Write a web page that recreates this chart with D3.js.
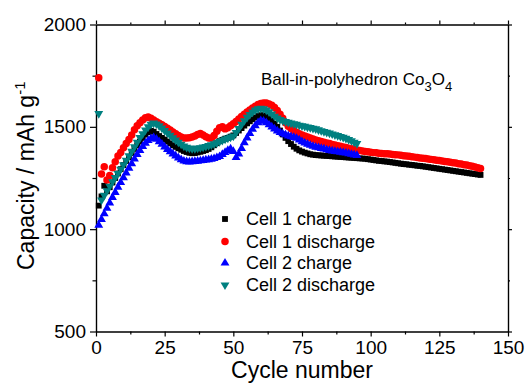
<!DOCTYPE html>
<html>
<head>
<meta charset="utf-8">
<script src="https://cdn.jsdelivr.net/npm/d3@7"></script>
<style>
body { margin: 0; background: #fff; }
svg { display: block; }
text { font-family: "Liberation Sans", Arial, sans-serif; fill: #000; }
</style>
</head>
<body>
<svg id="svg"></svg>
<script>
// capacity per cycle (mAh/g), cycle number = index + 1
var cell1Charge = [
	1115, 1160, 1212, 1185, 1205, 1228, 1250, 1272, 1293, 1313,
	1333, 1352, 1372, 1392, 1410, 1428, 1446, 1462, 1474, 1480,
	1476, 1465, 1455, 1446, 1438, 1428, 1419, 1410, 1402, 1395,
	1388, 1382, 1377, 1373, 1371, 1372, 1375, 1378, 1382, 1386,
	1392, 1400, 1410, 1420, 1430, 1436, 1442, 1446, 1452, 1458,
	1470, 1482, 1494, 1506, 1517, 1527, 1537, 1546, 1553, 1557,
	1556, 1550, 1541, 1530, 1516, 1500, 1482, 1463, 1446, 1430,
	1416, 1403, 1393, 1385, 1379, 1374, 1370, 1366, 1364, 1362,
	1361, 1360, 1359, 1358, 1357, 1356, 1355, 1354, 1353, 1352,
	1351, 1350, 1349, 1348, 1347, 1346, 1345, 1344, 1342, 1340,
	1338, 1336, 1334, 1333, 1331, 1330, 1328, 1326, 1324, 1322,
	1320, 1318, 1317, 1315, 1314, 1312, 1310, 1309, 1307, 1305,
	1303, 1301, 1299, 1297, 1295, 1293, 1291, 1289, 1287, 1285,
	1283, 1281, 1279, 1277, 1275, 1273, 1271, 1269, 1267, 1265
];
var cell1Discharge = [
	1740, 1270, 1305, 1240, 1262, 1300, 1330, 1358, 1375, 1398,
	1418, 1438, 1460, 1486, 1505, 1520, 1533, 1544, 1548, 1542,
	1533, 1525, 1518, 1510, 1502, 1493, 1484, 1475, 1466, 1458,
	1450, 1446, 1445, 1447, 1450, 1455, 1462, 1468, 1460, 1452,
	1446, 1444, 1458, 1478, 1495, 1500, 1490, 1496, 1505, 1515,
	1526, 1538, 1550, 1562, 1572, 1582, 1592, 1601, 1609, 1614,
	1616, 1616, 1612, 1605, 1594, 1580, 1562, 1542, 1520, 1503,
	1492, 1482, 1474, 1466, 1460, 1455, 1450, 1445, 1440, 1436,
	1432, 1428, 1425, 1421, 1418, 1414, 1411, 1408, 1405, 1402,
	1399, 1396, 1393, 1390, 1387, 1385, 1382, 1380, 1378, 1376,
	1374, 1373, 1371, 1370, 1369, 1368, 1367, 1365, 1364, 1363,
	1361, 1359, 1358, 1356, 1354, 1352, 1350, 1348, 1347, 1345,
	1343, 1341, 1339, 1337, 1335, 1333, 1331, 1329, 1327, 1325,
	1323, 1320, 1318, 1315, 1313, 1310, 1307, 1304, 1300, 1296
];
var cell2Charge = [
	1020, 1048, 1075, 1102, 1128, 1155, 1180, 1205, 1228, 1252,
	1275, 1298, 1320, 1343, 1365, 1385, 1404, 1420, 1433, 1443,
	1447, 1440, 1428, 1415, 1402, 1390, 1379, 1368, 1358, 1348,
	1340, 1333, 1330, 1329, 1330, 1331, 1332, 1334, 1336, 1338,
	1340, 1342, 1345, 1350, 1355, 1365, 1375, 1385, 1392, 1380,
	1350, 1368, 1395, 1422, 1446, 1468, 1488, 1506, 1520, 1530,
	1528, 1520, 1510, 1500, 1490, 1480, 1472, 1466, 1461, 1456,
	1452, 1448, 1444, 1436, 1428, 1421, 1415, 1410, 1405, 1401,
	1398, 1395, 1392, 1388, 1385, 1382, 1380, 1378, 1376, 1374,
	1372, 1369, 1366, 1363, 1360
];
var cell2Discharge = [
	1565, 1142, 1165, 1188, 1210, 1232, 1252, 1272, 1293, 1315,
	1337, 1358, 1380, 1402, 1425, 1447, 1466, 1484, 1500, 1512,
	1518, 1514, 1505, 1494, 1482, 1470, 1458, 1446, 1435, 1425,
	1415, 1406, 1400, 1396, 1394, 1394, 1396, 1398, 1401, 1404,
	1408, 1412, 1417, 1422, 1428, 1434, 1440, 1445, 1450, 1455,
	1472, 1492, 1512, 1530, 1546, 1560, 1572, 1582, 1588, 1590,
	1588, 1582, 1573, 1563, 1552, 1543, 1535, 1530, 1526, 1522,
	1518, 1515, 1512, 1508, 1505, 1502, 1499, 1496, 1493, 1490,
	1485, 1481, 1477, 1473, 1469, 1465, 1461, 1457, 1453, 1449,
	1444, 1438, 1432, 1425, 1418
];

var seriesNames = ["Cell 1 charge", "Cell 1 discharge", "Cell 2 charge", "Cell 2 discharge"];
var xTicks = [0, 25, 50, 75, 100, 125, 150];
var xMinorTicks = [12.5, 37.5, 62.5, 87.5, 112.5, 137.5];
var yTicks = [500, 1000, 1500, 2000];
var yMinorTicks = [750, 1250, 1750];

var width = 529, height = 387;

var svg = d3.select("#svg")
	.attr("width", width)
	.attr("height", height);

var x = d3.scaleLinear().domain([0, 150]).range([96, 508]);
var y = d3.scaleLinear().domain([500, 2000]).range([331.5, 24.5]);

var series = [
	{ name: seriesNames[0], values: cell1Charge, color: "#000000", type: d3.symbolSquare, size: 34, rot: 0 },
	{ name: seriesNames[1], values: cell1Discharge, color: "#ff0000", type: d3.symbolCircle, size: 44, rot: 0 },
	{ name: seriesNames[2], values: cell2Charge, color: "#0000ff", type: d3.symbolTriangle, size: 34, rot: 0 },
	{ name: seriesNames[3], values: cell2Discharge, color: "#008080", type: d3.symbolTriangle, size: 34, rot: 180 }
];

//////////////////////////////////////////////////////////////////////////////
// axes, all four sides, ticks pointing outward

var fmt = d3.format("d");

function styleAxis(g) {
	g.attr("font-family", null);
	g.selectAll("path, line")
		.attr("stroke", "#000")
		.attr("stroke-width", 1.2);
	g.selectAll("text")
		.style("font-size", "19px")
		.attr("fill", "#000");
}

var yBase = y(500), xBase = x(0);

svg.append("g")
	.attr("transform", "translate(0," + yBase + ")")
	.call(d3.axisBottom(x).tickValues(xTicks).tickFormat(fmt).tickSizeInner(5).tickSizeOuter(0).tickPadding(4))
	.call(styleAxis);
svg.append("g")
	.attr("transform", "translate(0," + yBase + ")")
	.call(d3.axisBottom(x).tickValues(xMinorTicks).tickSizeInner(3).tickSizeOuter(0).tickFormat(""))
	.call(styleAxis);
svg.append("g")
	.attr("transform", "translate(0," + y(2000) + ")")
	.call(d3.axisTop(x).tickValues(xTicks).tickSizeInner(4).tickSizeOuter(0).tickFormat(""))
	.call(styleAxis);
svg.append("g")
	.attr("transform", "translate(0," + y(2000) + ")")
	.call(d3.axisTop(x).tickValues(xMinorTicks).tickSizeInner(2).tickSizeOuter(0).tickFormat(""))
	.call(styleAxis);

svg.append("g")
	.attr("transform", "translate(" + xBase + ",0)")
	.call(d3.axisLeft(y).tickValues(yTicks).tickFormat(fmt).tickSizeInner(6).tickSizeOuter(0).tickPadding(4))
	.call(styleAxis);
svg.append("g")
	.attr("transform", "translate(" + xBase + ",0)")
	.call(d3.axisLeft(y).tickValues(yMinorTicks).tickSizeInner(3.5).tickSizeOuter(0).tickFormat(""))
	.call(styleAxis);
svg.append("g")
	.attr("transform", "translate(" + x(150) + ",0)")
	.call(d3.axisRight(y).tickValues(yTicks).tickSizeInner(4).tickSizeOuter(0).tickFormat(""))
	.call(styleAxis);
svg.append("g")
	.attr("transform", "translate(" + x(150) + ",0)")
	.call(d3.axisRight(y).tickValues(yMinorTicks).tickSizeInner(2).tickSizeOuter(0).tickFormat(""))
	.call(styleAxis);

//////////////////////////////////////////////////////////////////////////////
// data markers

function symbolPath(s) {
	return d3.symbol().type(s.type).size(s.size)();
}

series.forEach(function(s) {
	var pts = s.values.map(function(v, i) { return { c: i + 1, v: v }; });
	svg.append("g")
		.selectAll("path")
		.data(pts)
		.enter()
		.append("path")
		.attr("d", symbolPath(s))
		.attr("transform", function(d) {
			return "translate(" + x(d.c) + "," + y(d.v) + ") rotate(" + s.rot + ")";
		})
		.attr("fill", s.color);
});

//////////////////////////////////////////////////////////////////////////////
// legend

var legendBaselines = [225, 247.5, 269, 291];

var legend = svg.append("g")
	.selectAll("g")
	.data(series)
	.enter()
	.append("g")
	.attr("transform", function(d, i) { return "translate(0," + legendBaselines[i] + ")"; });

legend.append("path")
	.attr("d", function(d) { return symbolPath(d); })
	.attr("transform", function(d) { return "translate(225,-6) rotate(" + d.rot + ")"; })
	.attr("fill", function(d) { return d.color; });

legend.append("text")
	.attr("x", 246)
	.attr("y", 0)
	.style("font-size", "18px")
	.text(function(d) { return d.name; });

//////////////////////////////////////////////////////////////////////////////
// labels

var title = svg.append("text")
	.attr("x", 261)
	.attr("y", 85)
	.style("font-size", "17px");
title.append("tspan").text("Ball-in-polyhedron Co");
title.append("tspan").attr("dy", 6).style("font-size", "13px").text("3");
title.append("tspan").attr("dy", -6).text("O");
title.append("tspan").attr("dy", 6).style("font-size", "13px").text("4");

svg.append("text")
	.attr("x", (x(0) + x(150)) / 2)
	.attr("y", 378)
	.attr("text-anchor", "middle")
	.style("font-size", "23px")
	.text("Cycle number");

var yTitle = svg.append("text")
	.attr("transform", "translate(33.5,270) rotate(-90)")
	.attr("x", 0)
	.attr("y", 0)
	.style("font-size", "23px");
yTitle.append("tspan").text("Capacity / mAh g");
yTitle.append("tspan").attr("dy", -9).style("font-size", "15px").text("-1");
</script>
</body>
</html>
